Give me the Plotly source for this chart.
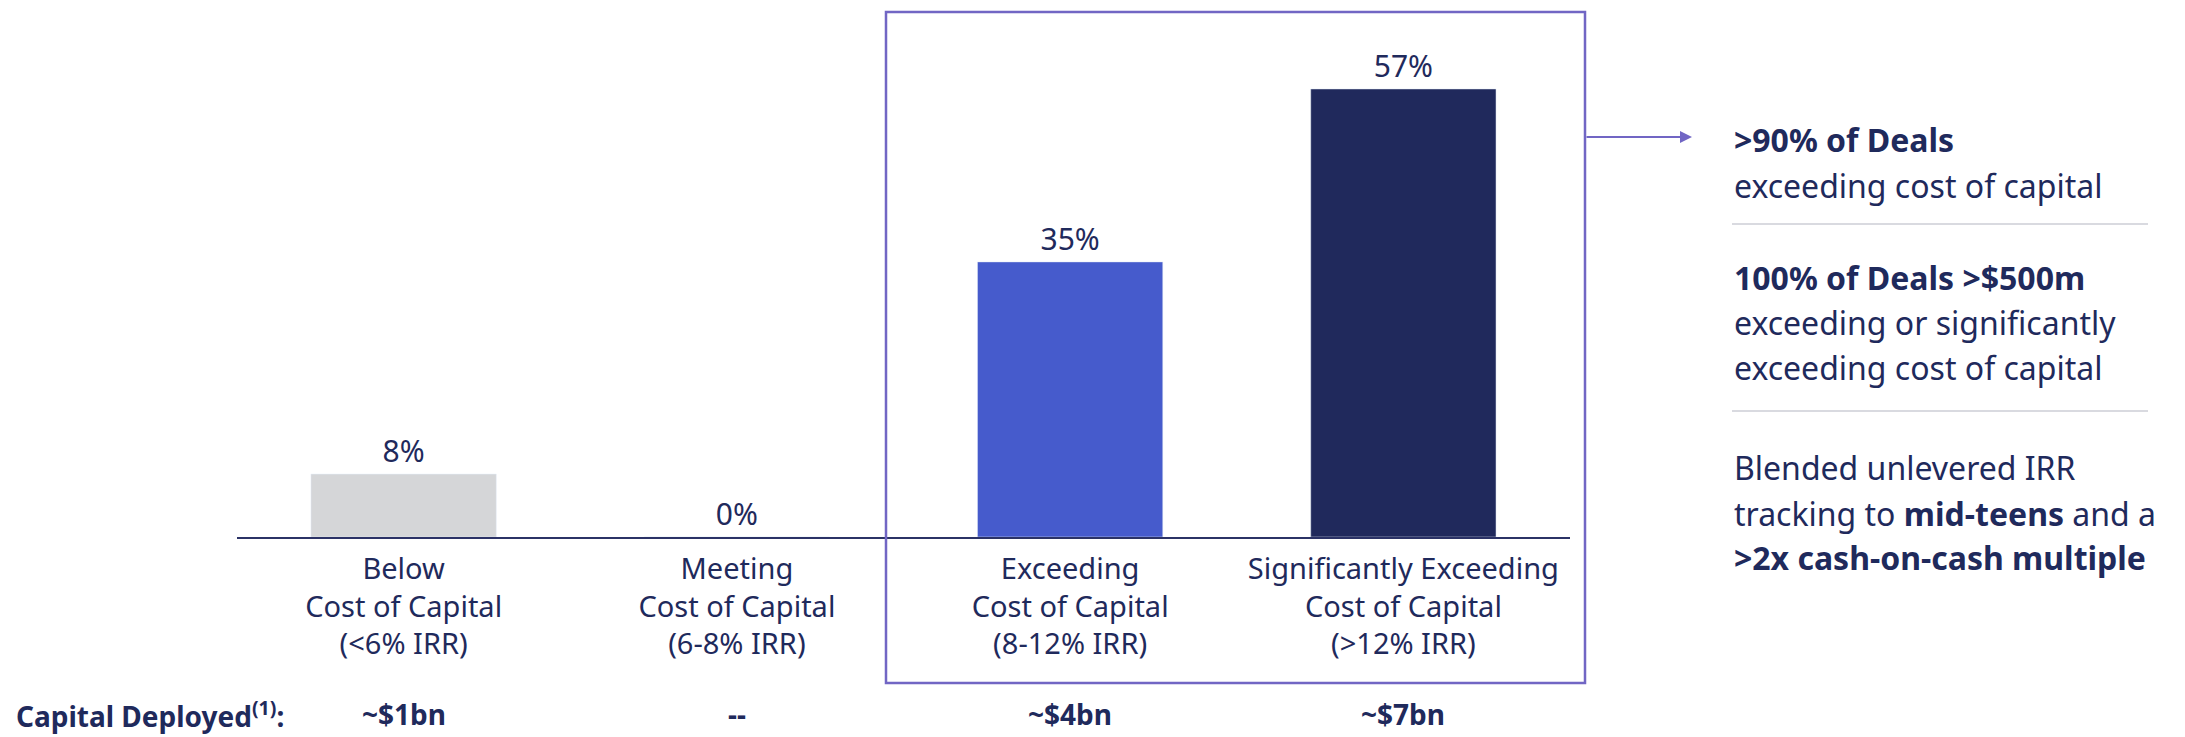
import plotly.graph_objects as go

categories = ["Below<br>Cost of Capital<br>(<6% IRR)",
              "Meeting<br>Cost of Capital<br>(6-8% IRR)",
              "Exceeding<br>Cost of Capital<br>(8-12% IRR)",
              "Significantly Exceeding<br>Cost of Capital<br>(>12% IRR)"]
values = [8, 0, 35, 57]
value_labels = ["8%", "0%", "35%", "57%"]
bar_colors = ["#D5D6D8", "#D5D6D8", "#465BCC", "#20295C"]
capital_deployed = ["~$1bn", "--", "~$4bn", "~$7bn"]
side_lines = [
    ("<b>>90% of Deals</b>", 139),
    ("exceeding cost of capital", 185),
    ("<b>100% of Deals >$500m</b>", 277),
    ("exceeding or significantly", 322),
    ("exceeding cost of capital", 367),
    ("Blended unlevered IRR", 467),
    ("tracking to <b>mid-teens</b> and a", 513),
    ("<b>>2x cash-on-cash multiple</b>", 557),
]

TXT = "#1F2A5C"
FONT = "Noto Sans"
OFF = 8  # page body margin
W, H = 2185 - OFF, 737 - OFF
L, R, T, B = 237 - OFF, 1570 - OFF, 18 - OFF, 537 - OFF

def px_x(p):
    return (p - OFF - L) / (R - L)

def px_y(p):
    return (B - (p - OFF)) / (B - T)

xs = list(range(len(values)))
fig = go.Figure(go.Bar(
    x=xs, y=values, marker_color=bar_colors, width=0.556,
    text=value_labels, textposition="outside", cliponaxis=False,
    textfont=dict(size=30, color=TXT, family=FONT),
))

fig.update_layout(
    width=W, height=H, margin=dict(l=L, r=W - R, t=T, b=H - B, pad=0),
    plot_bgcolor="white", paper_bgcolor="white", showlegend=False,
    font=dict(family=FONT, color=TXT),
    xaxis=dict(range=[-0.5, 3.5], tickvals=xs, ticktext=categories,
               showline=True, linecolor="#2B3266", linewidth=2,
               showgrid=False, zeroline=False, ticks="",
               ticklabelstandoff=5,
               tickfont=dict(size=29, color=TXT, family=FONT)),
    yaxis=dict(range=[0, (B - T) / 7.86], visible=False, showgrid=False),
)

# highlight box
fig.add_shape(type="rect", xref="paper", yref="paper",
              x0=px_x(886), x1=px_x(1585), y0=px_y(683), y1=px_y(12),
              line=dict(color="#7166C4", width=2.5), fillcolor="rgba(0,0,0,0)")

# arrow
fig.add_annotation(xref="paper", yref="paper", x=px_x(1692), y=px_y(137),
                   ax=-107, ay=0, showarrow=True, arrowhead=2, arrowsize=1.2,
                   arrowwidth=2, arrowcolor="#7166C4", text="")

# side text
for txt, yp in side_lines:
    fig.add_annotation(xref="paper", yref="paper", x=px_x(1732), y=px_y(yp),
                       xanchor="left", yanchor="middle", showarrow=False,
                       text=txt, font=dict(size=32, color=TXT, family=FONT))
for yp in (224, 411):
    fig.add_shape(type="line", xref="paper", yref="paper",
                  x0=px_x(1732), x1=px_x(2148), y0=px_y(yp), y1=px_y(yp),
                  line=dict(color="#D9DAE0", width=2))

# capital deployed row
fig.add_annotation(xref="paper", yref="paper", x=px_x(14), y=px_y(714),
                   xanchor="left", yanchor="middle", showarrow=False,
                   text="<b>Capital Deployed<sup>(1)</sup>:</b>",
                   font=dict(size=28, color=TXT, family=FONT))
for i, c in enumerate(capital_deployed):
    fig.add_annotation(xref="x", yref="paper", x=xs[i], y=px_y(714),
                       xanchor="center", yanchor="middle", showarrow=False,
                       text=f"<b>{c}</b>", font=dict(size=28, color=TXT, family=FONT))

fig.write_html("out.html")
